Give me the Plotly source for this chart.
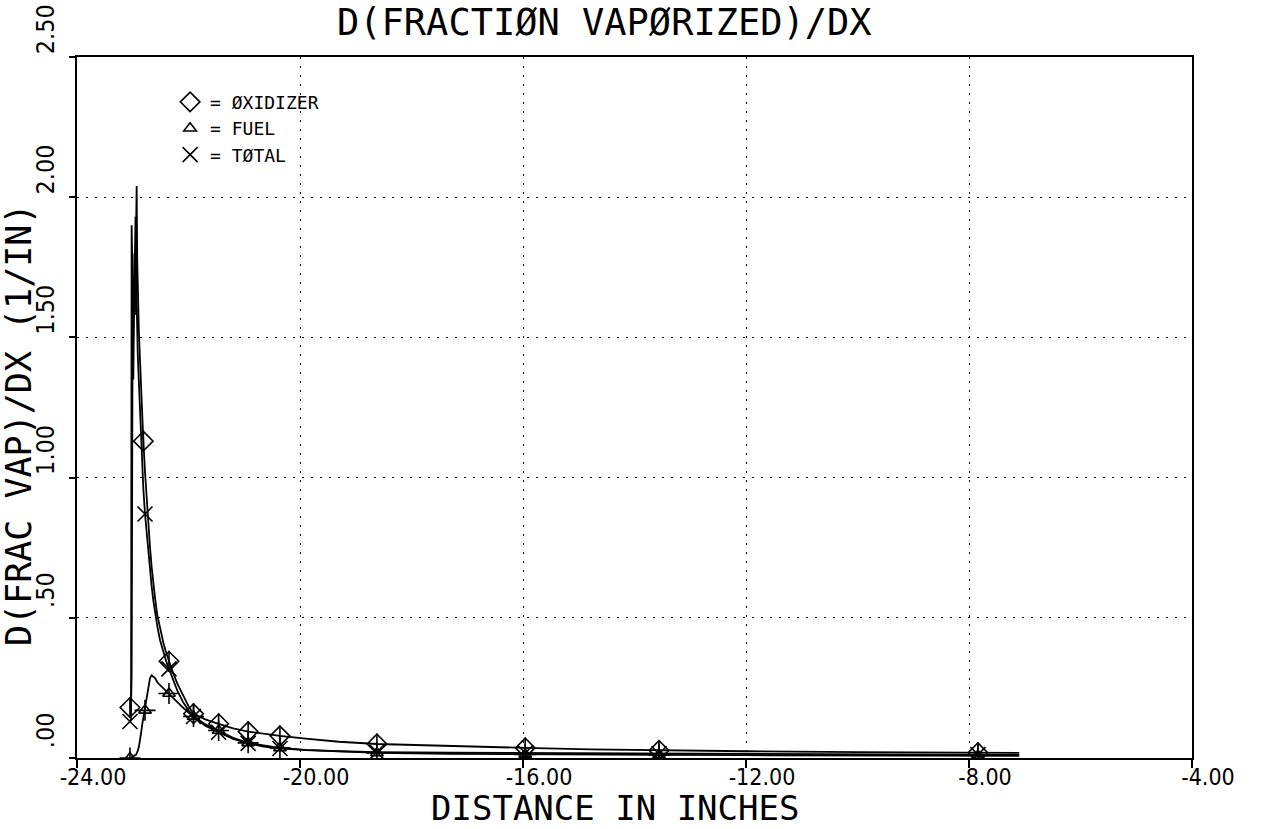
import plotly.graph_objects as go

# Axial station (inches) and vaporization-rate profiles d(fraction vaporized)/dx (1/in)
X = [-23.05, -23.03, -23.02, -23.01, -23.00, -22.99, -22.98, -22.97, -22.96, -22.95,
     -22.94, -22.93, -22.92, -22.91, -22.89, -22.87, -22.85, -22.83, -22.81, -22.78,
     -22.75, -22.72, -22.69, -22.66, -22.63, -22.60, -22.56, -22.51, -22.45, -22.40,
     -22.35, -22.28, -22.20, -22.10, -22.00, -21.91, -21.70, -21.46, -21.20, -20.93,
     -20.65, -20.36, -19.90, -19.30, -18.62, -17.30, -15.96, -14.80, -13.56, -12.00,
     -10.00, -9.00, -7.84, -7.10]

OXIDIZER = [0.18, 0.19, 0.30, 1.40, 1.72, 1.50, 1.62, 1.80, 1.58, 1.85,
            1.98, 2.04, 1.78, 1.66, 1.52, 1.42, 1.30, 1.20, 1.13, 1.02,
            0.92, 0.83, 0.75, 0.68, 0.62, 0.57, 0.51, 0.46, 0.41, 0.375,
            0.345, 0.305, 0.265, 0.225, 0.185, 0.158, 0.138, 0.122, 0.106, 0.094,
            0.086, 0.079, 0.069, 0.058, 0.050, 0.042, 0.036, 0.031, 0.027, 0.024,
            0.021, 0.020, 0.019, 0.018]

TOTAL = [0.13, 0.14, 1.90, 1.78, 1.45, 1.35, 1.55, 1.68, 1.88, 1.93,
         1.72, 1.60, 1.50, 1.44, 1.34, 1.24, 1.12, 1.03, 0.96, 0.87,
         0.80, 0.73, 0.66, 0.61, 0.56, 0.52, 0.47, 0.42, 0.375, 0.345,
         0.318, 0.28, 0.24, 0.20, 0.17, 0.148, 0.115, 0.092, 0.068, 0.052,
         0.041, 0.034, 0.028, 0.024, 0.021, 0.019, 0.018, 0.016, 0.015, 0.014,
         0.013, 0.012, 0.012, 0.011]

FUEL = [0.00, 0.00, 0.00, 0.005, 0.005, 0.005, 0.008, 0.008, 0.010, 0.010,
        0.012, 0.015, 0.020, 0.025, 0.040, 0.060, 0.090, 0.120, 0.145, 0.170,
        0.215, 0.260, 0.285, 0.295, 0.290, 0.285, 0.270, 0.260, 0.250, 0.240,
        0.230, 0.215, 0.200, 0.180, 0.162, 0.148, 0.120, 0.098, 0.072, 0.054,
        0.044, 0.036, 0.029, 0.023, 0.018, 0.015, 0.013, 0.012, 0.011, 0.010,
        0.009, 0.009, 0.009, 0.008]

# Stations at which the plotter stamped each symbol
OX_MARK_X = [-23.05, -22.81, -22.35, -21.91, -21.46, -20.93, -20.36, -18.62, -15.96, -13.56, -7.84]
FUEL_MARK_X = [-23.05, -22.78, -22.35, -21.91, -21.46, -20.93, -20.36, -18.62, -15.96, -13.56, -7.84]
TOTAL_MARK_X = [-23.05, -22.78, -22.35, -21.91, -21.46, -20.93, -20.36, -18.62, -15.96, -13.56, -7.84]

X_TICKS = [-24, -20, -16, -12, -8, -4]
X_TICK_TEXT = ["-24.00", "-20.00", "-16.00", "-12.00", "-8.00", "-4.00"]
Y_TICKS = [0.0, 0.5, 1.0, 1.5, 2.0, 2.5]
Y_TICK_TEXT = [".00", ".50", "1.00", "1.50", "2.00", "2.50"]

FONT = "DejaVu Sans Mono"
TICK_FONT = "Liberation Sans Narrow, DejaVu Sans Condensed, DejaVu Sans Mono"
INK = "black"


def at(stations, series):
    return [series[X.index(s)] for s in stations]


fig = go.Figure()

for series in (FUEL, TOTAL, OXIDIZER):
    fig.add_trace(go.Scatter(x=X, y=series, mode="lines",
                             line=dict(color=INK, width=1.8), showlegend=False,
                             hoverinfo="skip"))

# symbol stamps; the primary symbol of each series also feeds the legend
stamps = [
    (OX_MARK_X, OXIDIZER, "diamond-open", 15, "= ØXIDIZER", "ox"),
    (OX_MARK_X, OXIDIZER, "line-ns-open", 15, None, "ox"),
    (FUEL_MARK_X, FUEL, "triangle-up-open", 11, "= FUEL", "fuel"),
    (FUEL_MARK_X, FUEL, "cross-thin-open", 15, None, "fuel"),
    (TOTAL_MARK_X, TOTAL, "x-thin-open", 15, "= TØTAL", "total"),
]
for stations, series, symbol, size, name, group in stamps:
    fig.add_trace(go.Scatter(
        x=stations, y=at(stations, series), mode="markers",
        marker=dict(symbol=symbol, size=size, color=INK,
                    line=dict(color=INK, width=1.6)),
        name=name or "", showlegend=name is not None, legendgroup=group,
        hoverinfo="skip"))

axis_common = dict(
    showline=True, linecolor=INK, linewidth=2, mirror=True, automargin=False,
    ticks="outside", tickcolor=INK, tickwidth=1.5,
    showgrid=True, gridcolor=INK, gridwidth=1.4, griddash="2px,7px",
    zeroline=False,
)

fig.update_xaxes(range=[-24, -4], tickmode="array", tickvals=X_TICKS,
                 ticktext=X_TICK_TEXT, ticklen=8, ticklabelshift=16,
                 ticklabelstandoff=-11,
                 tickfont=dict(family=TICK_FONT, size=23, color=INK),
                 **axis_common)
fig.update_yaxes(range=[0, 2.5], tickmode="array", tickvals=Y_TICKS,
                 ticktext=Y_TICK_TEXT, ticklen=6, tickangle=-90,
                 ticklabelshift=-24, ticklabelstandoff=5,
                 tickfont=dict(family=TICK_FONT, size=25, color=INK),
                 **axis_common)

fig.add_annotation(text="D(FRACTIØN VAPØRIZED)/DX", xref="paper", yref="paper",
                   x=0.4735, y=1.0, yshift=35, xanchor="center", yanchor="middle",
                   showarrow=False, font=dict(family=FONT, size=37, color=INK))
fig.add_annotation(text="DISTANCE IN INCHES", xref="paper", yref="paper",
                   x=0.4825, y=0.0, yshift=-50, xanchor="center", yanchor="middle",
                   showarrow=False, font=dict(family=FONT, size=34, color=INK))
fig.add_annotation(text="D(FRAC VAP)/DX (1/IN)", xref="paper", yref="paper",
                   x=0.0, xshift=-58, y=0.475, xanchor="center", yanchor="middle",
                   textangle=-90, showarrow=False,
                   font=dict(family=FONT, size=35, color=INK))

fig.update_layout(
    width=1266, height=829,
    margin=dict(l=77, r=74, t=57, b=71),
    paper_bgcolor="white", plot_bgcolor="white",
    showlegend=True,
    legend=dict(x=0.0835, y=0.962, xanchor="left", yanchor="top",
                bgcolor="rgba(0,0,0,0)", borderwidth=0, tracegroupgap=0,
                font=dict(family=FONT, size=18, color=INK), itemwidth=30),
)

fig.write_html("out.html")
